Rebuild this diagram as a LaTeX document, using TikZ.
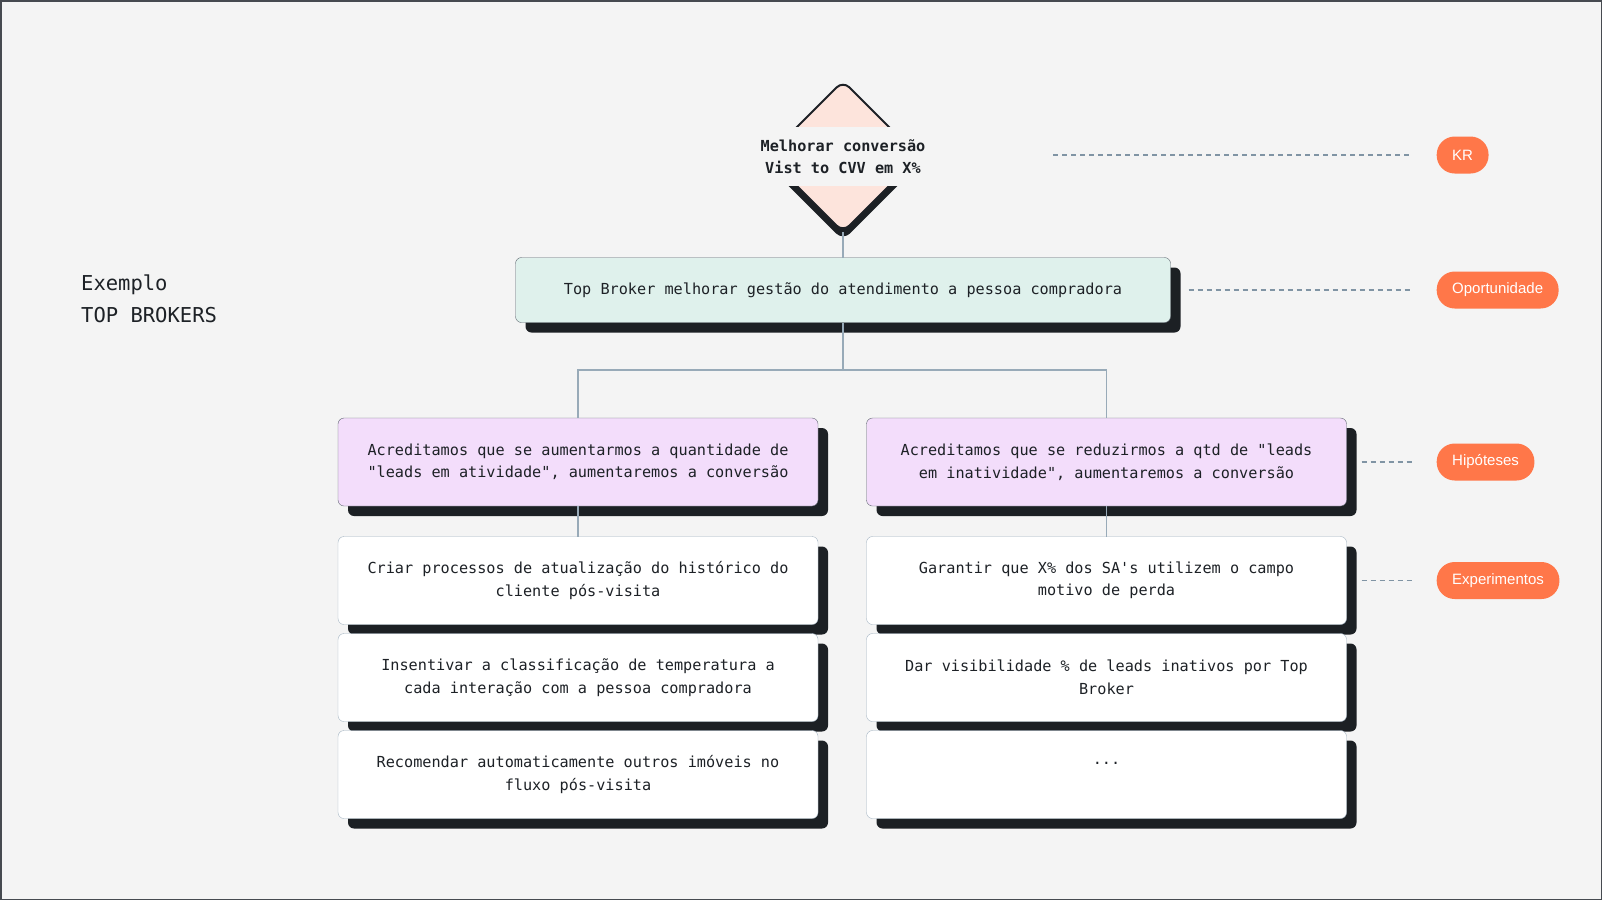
\documentclass[tikz,border=0pt]{standalone}
\usepackage{fontspec}
\setmainfont{Liberation Sans}
\setmonofont{DejaVu Sans Mono}
\usetikzlibrary{positioning,shapes.geometric}
\definecolor{canvasgray}{RGB}{244,244,244}
\definecolor{framegray}{RGB}{70,74,80}
\definecolor{inkdark}{RGB}{29,33,38}
\definecolor{shadowdark}{RGB}{28,32,36}
\definecolor{mintfill}{RGB}{223,241,236}
\definecolor{lilacfill}{RGB}{243,221,251}
\definecolor{peachfill}{RGB}{253,228,220}
\definecolor{tagorange}{RGB}{255,119,73}
\definecolor{linkgray}{RGB}{152,170,184}
\definecolor{guidegray}{RGB}{128,148,164}
\definecolor{edgegray}{RGB}{95,102,112}
\definecolor{edgelight}{RGB}{163,180,194}

\begin{document}
\begin{tikzpicture}[
    x=1pt,y=-1pt,
    card/.style={draw,rounded corners=6pt,align=center,minimum width=480pt,minimum height=88pt,outer sep=0pt,text=inkdark,
      font=\ttfamily\fontsize{15.2}{22.5}\selectfont,
      preaction={fill=shadowdark,draw=none,transform canvas={xshift=10pt,yshift=-10pt}}},
    oppbox/.style={card,fill=mintfill,draw=edgegray,minimum width=655pt,minimum height=65pt},
    hypbox/.style={card,fill=lilacfill,draw=edgegray},
    expbox/.style={card,fill=white,draw=edgelight},
    krbox/.style={diamond,draw=inkdark,line width=2pt,fill=peachfill,rounded corners=9pt,minimum width=151pt,minimum height=151pt,inner sep=0pt,outer sep=0pt,
      preaction={fill=shadowdark,draw=shadowdark,line width=2pt,transform canvas={yshift=-7pt}}},
    krtext/.style={fill=canvasgray,minimum height=59pt,inner xsep=6pt,align=center,text=inkdark,font=\ttfamily\bfseries\fontsize{15.2}{22.5}\selectfont},
    tag/.style={fill=tagorange,text=white,rounded corners=18pt,minimum height=37pt,inner xsep=15.5pt,anchor=west,font=\fontsize{15}{17}\selectfont},
    link/.style={draw=linkgray,line width=1.2pt},
    guide/.style={draw=guidegray,line width=1.5pt,dash pattern=on 5pt off 4pt,shorten >=24pt}
  ]
    \useasboundingbox (0,0) rectangle (1602,900);
    \fill[canvasgray] (0,0) rectangle (1602,900);
    \draw[framegray,line width=1.5pt] (0.75,0.75) rectangle (1601.25,899.25);

    \node[font=\ttfamily\fontsize{20.5}{31.5}\selectfont,align=left,anchor=west,inner sep=0pt,text=inkdark] (title) at (81,299) {Exemplo\\TOP BROKERS};

    \node[krbox] (kr) at (843,156.5) {};
    \node[krtext] (krlabel) at (kr.center) {Melhorar conversão\\Vist to CVV em X\%};
    \node[oppbox] (opp) at (843,290) {Top Broker melhorar gestão do atendimento a pessoa compradora};

    \node[hypbox] (hypL) at (578,462) {Acreditamos que se aumentarmos a quantidade de\\"leads em atividade", aumentaremos a conversão};
    \node[hypbox] (hypR) at (1106.5,462) {Acreditamos que se reduzirmos a qtd de "leads\\em inatividade", aumentaremos a conversão};

    \node[expbox,below=30.5pt of hypL] (expL1) {Criar processos de atualização do histórico do\\cliente pós-visita};
    \node[expbox,below=9pt of expL1] (expL2) {Insentivar a classificação de temperatura a\\cada interação com a pessoa compradora};
    \node[expbox,below=9pt of expL2] (expL3) {Recomendar automaticamente outros imóveis no\\fluxo pós-visita};
    \node[expbox,below=30.5pt of hypR] (expR1) {Garantir que X\% dos SA's utilizem o campo\\motivo de perda};
    \node[expbox,below=9pt of expR1] (expR2) {Dar visibilidade \% de leads inativos por Top\\Broker};
    \node[expbox,below=9pt of expR2] (expR3) {...\\\mbox{}};

    \node[tag] (krtag) at (1436.5,155) {KR};
    \node[tag] (opptag) at (1436.5,290) {Oportunidade};
    \node[tag] (hyptag) at (1436.5,462) {Hipóteses};
    \node[tag] (exptag) at (1436.5,580.5) {Experimentos};

    \coordinate (fork) at (843,370);
    \coordinate (krguide) at (1053,155);

    \draw[link] (kr.south) -- (opp.north);
    \draw[link] (opp.south) -- (fork);
    \draw[link] (fork) -| (hypL.north);
    \draw[link] (fork) -| (hypR.north);
    \draw[link] (hypL.south) -- (expL1.north);
    \draw[link] (hypR.south) -- (expR1.north);

    \draw[guide] (krguide) -- (krtag.west);
    \draw[guide,shorten <=18pt] (opp.east) -- (opptag.west);
    \draw[guide,shorten <=15pt] (hypR.east) -- (hyptag.west);
    \draw[guide,shorten <=15pt] (expR1.east) -- (exptag.west);
  \end{tikzpicture}
\end{document}
